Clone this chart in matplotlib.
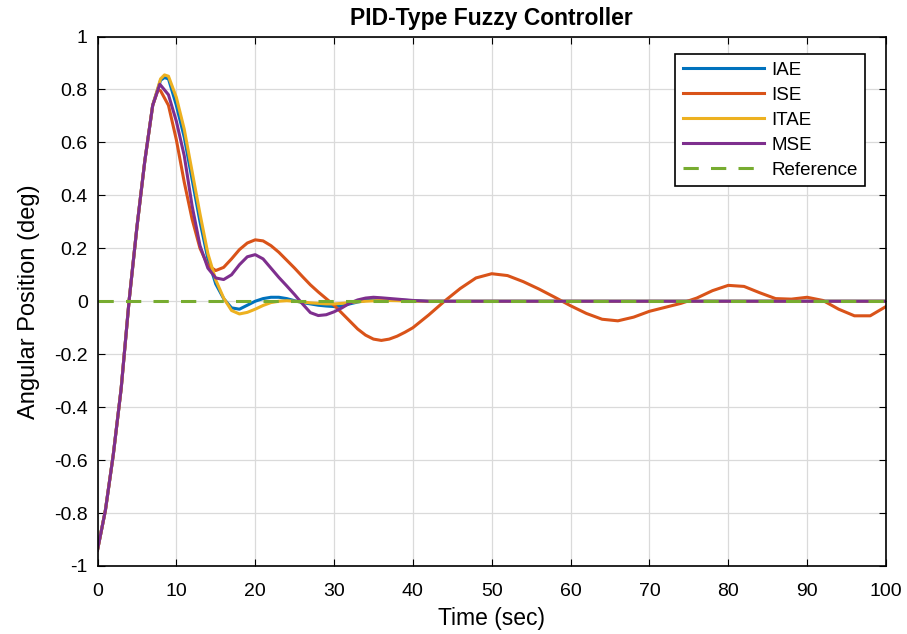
import matplotlib
matplotlib.use("Agg")
import matplotlib.pyplot as plt

plt.rcParams['font.family'] = ['Liberation Sans', 'DejaVu Sans']

# shared rise (t = 0..7 s)
t_rise = [0, 1, 2, 3, 4, 5, 6, 7]
y_rise = [-0.94, -0.79, -0.58, -0.33, 0.0, 0.28, 0.53, 0.74]

t_iae = t_rise + [8, 8.5, 9, 10, 11, 12, 13, 14, 15, 16, 17, 18, 19, 20, 21, 22, 23, 24, 25,
                  26, 27, 28, 29, 30, 31, 32, 33, 34, 36, 38, 40, 42, 100]
y_iae = y_rise + [0.835, 0.845, 0.84, 0.74, 0.62, 0.46, 0.30, 0.16, 0.065, 0.01, -0.025, -0.03,
                  -0.015, 0.0, 0.01, 0.015, 0.015, 0.01, 0.002, -0.005, -0.01, -0.015, -0.018,
                  -0.02, -0.018, -0.01, -0.003, 0.003, 0.008, 0.005, 0.002, 0.0, 0.0]

t_ise = t_rise + [7.7, 8, 9, 10, 11, 12, 13, 14, 15, 16, 17, 18, 19, 20, 21, 22, 23, 24, 25,
                  26, 27, 28, 29, 30, 31, 32, 33, 34, 35, 36, 37, 38, 39, 40, 42, 44, 46, 48,
                  50, 52, 54, 56, 58, 60, 62, 64, 66, 68, 70, 72, 74, 76, 78, 80, 82, 84, 86,
                  88, 90, 92, 94, 96, 98, 100]
y_ise = y_rise + [0.80, 0.795, 0.74, 0.61, 0.45, 0.31, 0.20, 0.135, 0.116, 0.128, 0.16, 0.195,
                  0.22, 0.232, 0.228, 0.21, 0.185, 0.155, 0.125, 0.093, 0.062, 0.035, 0.01, -0.015,
                  -0.045, -0.075, -0.105, -0.128, -0.143, -0.148, -0.143, -0.132, -0.117, -0.10,
                  -0.052, 0.0, 0.048, 0.088, 0.104, 0.097, 0.074, 0.046, 0.015, -0.017, -0.046,
                  -0.068, -0.074, -0.06, -0.038, -0.023, -0.008, 0.012, 0.04, 0.06, 0.056, 0.032,
                  0.01, 0.008, 0.015, 0.003, -0.03, -0.055, -0.055, -0.02]

t_itae = t_rise + [8, 8.5, 9, 10, 11, 12, 13, 14, 15, 16, 17, 18, 19, 20, 21, 22, 23, 24, 25,
                   26, 27, 28, 29, 30, 31, 32, 33, 34, 36, 38, 40, 100]
y_itae = y_rise + [0.84, 0.855, 0.85, 0.77, 0.65, 0.49, 0.33, 0.18, 0.08, 0.012, -0.035,
                   -0.048, -0.042, -0.03, -0.016, -0.005, 0.0, 0.002, 0.0, -0.003, -0.006,
                   -0.008, -0.01, -0.01, -0.008, -0.005, -0.002, 0.0, 0.003, 0.002, 0.0, 0.0]

t_mse = t_rise + [7.9, 9, 10, 11, 12, 13, 14, 15, 16, 17, 18, 19, 20, 21, 22, 23, 24, 25, 26,
                  27, 28, 29, 30, 31, 32, 33, 34, 35, 36, 38, 40, 42, 100]
y_mse = y_rise + [0.82, 0.78, 0.68, 0.55, 0.36, 0.21, 0.125, 0.088, 0.082, 0.10, 0.138, 0.168,
                  0.176, 0.16, 0.125, 0.09, 0.058, 0.025, -0.01, -0.043, -0.054, -0.051, -0.04,
                  -0.025, -0.007, 0.005, 0.012, 0.015, 0.013, 0.008, 0.003, 0.0, 0.0]

t_ref = [0, 100]
y_ref = [0, 0]

fig = plt.figure(figsize=(9.07, 6.34), dpi=100)
ax = fig.add_axes([0.1075, 0.1073, 0.8693, 0.8351])

lw = 2.2
ax.plot(t_iae, y_iae, color='#0072BD', lw=lw, label='IAE')
ax.plot(t_ise, y_ise, color='#D95319', lw=lw, label='ISE')
ax.plot(t_itae, y_itae, color='#EDB120', lw=lw, label='ITAE')
ax.plot(t_mse, y_mse, color='#7E2F8E', lw=lw, label='MSE')
ax.plot(t_ref, y_ref, color='#77AC30', lw=lw, ls=(0, (5, 4)), label='Reference')

ax.set_xlim(0, 100)
ax.set_ylim(-1, 1)
ax.set_xticks(range(0, 101, 10))
ax.set_yticks([-1, -0.8, -0.6, -0.4, -0.2, 0, 0.2, 0.4, 0.6, 0.8, 1])
ax.set_yticklabels(['-1', '-0.8', '-0.6', '-0.4', '-0.2', '0', '0.2', '0.4', '0.6', '0.8', '1'])
ax.grid(True, color='#dadada', lw=0.9)
ax.set_axisbelow(True)
ax.tick_params(direction='in', top=True, right=True, labelsize=14, length=5)
ax.tick_params(axis='x', pad=12)
ax.tick_params(axis='y', pad=7)
for s in ax.spines.values():
    s.set_linewidth(1.2)

ax.set_xlabel('Time (sec)', fontsize=16.5, labelpad=5)
ax.set_ylabel('Angular Position (deg)', fontsize=17, labelpad=10)
ax.set_title('PID-Type Fuzzy Controller', fontsize=16.5, fontweight='bold', pad=8)

leg = ax.legend(loc='upper right', bbox_to_anchor=(0.9734, 0.967), fontsize=13.5,
                fancybox=False, edgecolor='black', framealpha=1, handlelength=4.3,
                labelspacing=0.42, borderpad=0.4, handletextpad=0.4, borderaxespad=0)
leg.get_frame().set_linewidth(1.2)

fig.savefig('out.png', dpi=100)
